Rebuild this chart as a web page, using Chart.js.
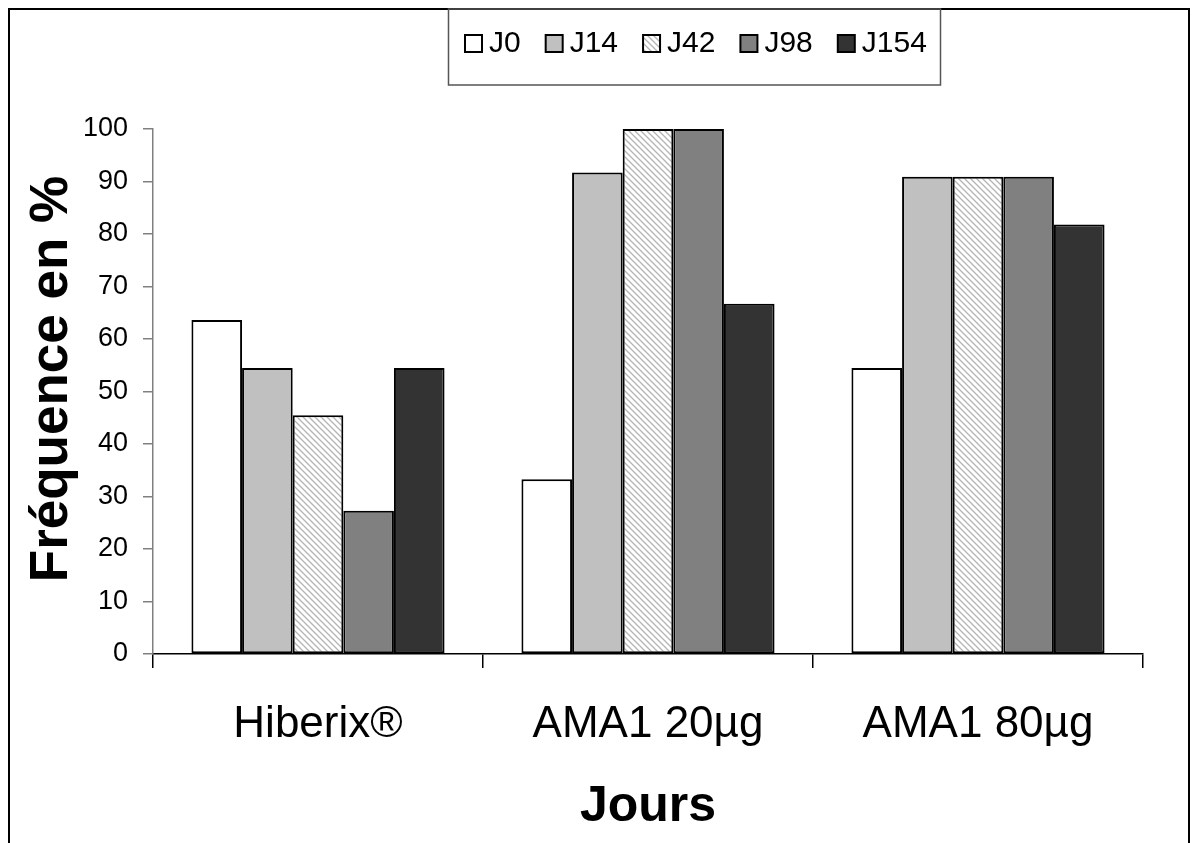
<!DOCTYPE html>
<html>
<head>
<meta charset="utf-8">
<script src="https://cdn.jsdelivr.net/npm/chart.js@4.4.1/dist/chart.umd.min.js"></script>
<style>
  html, body { margin: 0; padding: 0; background: #fff; }
  canvas { display: block; }
</style>
</head>
<body>
<canvas id="chart" width="1192" height="843"></canvas>
<script>
const groups = ['Hiberix®', 'AMA1 20µg', 'AMA1 80µg'];
const seriesNames = ['J0', 'J14', 'J42', 'J98', 'J154'];
const j0 = [63.6, 33.3, 54.5];
const j14 = [54.5, 91.7, 90.9];
const j42 = [45.5, 100, 90.9];
const j98 = [27.3, 100, 90.9];
const j154 = [54.5, 66.7, 81.8];
const yTicks = [0, 10, 20, 30, 40, 50, 60, 70, 80, 90, 100];
const yTitle = 'Fréquence en %';

const FONT = '"Liberation Sans", Arial, sans-serif';

// diagonal hatch for J42
const hatch = (() => {
    const c = document.createElement('canvas');
    c.width = 6; c.height = 6;
    const g = c.getContext('2d');
    g.fillStyle = '#fff';
    g.fillRect(0, 0, 6, 6);
    g.strokeStyle = '#b4b4b4';
    g.lineWidth = 1.3;
    g.beginPath();
    g.moveTo(-1, -1); g.lineTo(7, 7);
    g.moveTo(-1, 5); g.lineTo(1, 7);
    g.moveTo(5, -1); g.lineTo(7, 1);
    g.stroke();
    return g.createPattern(c, 'repeat');
})();

const fills = ['#ffffff', '#c0c0c0', hatch, '#808080', '#333333'];
const values = [j0, j14, j42, j98, j154];

const framePlugin = {
    id: 'framePlugin',
    afterDraw: (chart) => {
        const { ctx } = chart;
        ctx.save();
        // outer frame
        ctx.strokeStyle = '#000';
        ctx.lineWidth = 2;
        ctx.beginPath();
        ctx.moveTo(9, 850);
        ctx.lineTo(9, 9);
        ctx.lineTo(1189, 9);
        ctx.lineTo(1189, 850);
        ctx.stroke();

        // legend box
        ctx.strokeStyle = '#555';
        ctx.lineWidth = 1.5;
        ctx.strokeRect(448.5, 9, 492, 76);

        // legend entries
        ctx.font = '30px ' + FONT;
        ctx.textBaseline = 'middle';
        let x = 465;
        const y = 43;
        seriesNames.forEach((name, i) => {
            ctx.fillStyle = fills[i];
            ctx.fillRect(x, y - 8, 17, 17);
            ctx.strokeStyle = '#000';
            ctx.lineWidth = 2;
            ctx.strokeRect(x, y - 8, 17, 17);
            ctx.fillStyle = '#000';
            ctx.fillText(name, x + 24, y + 1);
            x += 24 + ctx.measureText(name).width + 25;
        });

        // y axis title
        ctx.translate(52, 379);
        ctx.rotate(-Math.PI / 2);
        ctx.font = 'bold 53px ' + FONT;
        ctx.textAlign = 'center';
        ctx.textBaseline = 'middle';
        ctx.fillText(yTitle, 0, 0);
        ctx.restore();
    }
};

new Chart(document.getElementById('chart').getContext('2d'), {
    type: 'bar',
    data: {
        labels: groups,
        datasets: seriesNames.map((name, i) => ({
            label: name,
            data: values[i],
            backgroundColor: fills[i],
            borderColor: '#000',
            borderWidth: 2,
            borderSkipped: false,
            categoryPercentage: 0.767,
            barPercentage: 1.0
        }))
    },
    options: {
        responsive: false,
        animation: false,
        devicePixelRatio: 1,
        layout: {
            padding: { left: 0, right: 49, top: 129, bottom: 0 }
        },
        plugins: {
            legend: { display: false },
            tooltip: { enabled: false }
        },
        scales: {
            x: {
                grid: {
                    offset: true,
                    drawOnChartArea: false,
                    tickLength: 14,
                    color: '#000',
                    lineWidth: 1.5
                },
                border: { color: '#000', width: 1.5 },
                ticks: {
                    color: '#000',
                    font: { family: FONT, size: 44 },
                    padding: 30,
                    maxRotation: 0
                },
                title: {
                    display: true,
                    text: 'Jours',
                    color: '#000',
                    font: { family: FONT, size: 50, weight: 'bold' },
                    padding: { top: 0, bottom: 6 }
                },
                afterFit: (scale) => { scale.height = 843 - 654; }
            },
            y: {
                min: 0,
                max: 100,
                afterBuildTicks: (scale) => { scale.ticks = yTicks.map(v => ({ value: v })); },
                grid: {
                    drawOnChartArea: false,
                    tickLength: 10,
                    color: '#808080',
                    lineWidth: 1.5
                },
                border: { color: '#808080', width: 1.5 },
                ticks: {
                    color: '#000',
                    font: { family: FONT, size: 27 },
                    padding: 15
                },
                afterFit: (scale) => { scale.width = 153; }
            }
        }
    },
    plugins: [framePlugin]
});
</script>
</body>
</html>
